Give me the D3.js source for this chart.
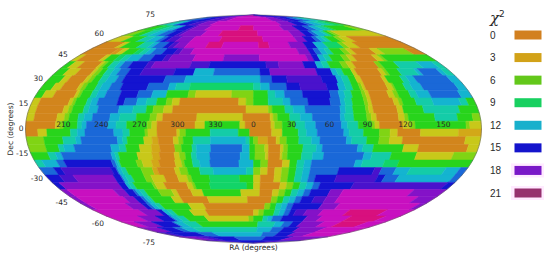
<!DOCTYPE html>
<html>
<head>
<meta charset="utf-8">
<script src="https://cdn.jsdelivr.net/npm/d3@7"></script>
<style>
  html, body { margin: 0; background: #fff; }
  svg { display: block; }
  text { font-family: "DejaVu Sans", sans-serif; fill: #2a2a2a; }
</style>
</head>
<body>
<svg id="chart" width="550" height="260"></svg>
<script>
// chi2, one row per 5 deg of Dec from +90 to -90.
// Each row is a list of runs "level:endColumn", columns are 6 deg of RA (60 across), level is chi2 / 1.5 in hex.
const chi2Rows = [
  'a:7 b:15 d:36 c:45 b:53 a:60',
  '9:5 a:10 b:15 c:19 d:38 c:43 b:47 a:51 9:55 8:58 7:60',
  '7:3 8:5 a:9 b:12 c:16 d:39 c:44 a:48 9:50 8:53 7:56 6:59 5:60',
  '5:3 6:5 7:7 8:9 a:12 b:13 c:17 d:26 e:30 d:38 c:42 a:45 9:47 8:49 7:51 6:52 5:58 4:60',
  '4:2 5:4 7:6 8:8 9:10 a:12 b:13 c:18 d:22 e:31 d:39 c:42 a:44 9:45 8:47 7:48 5:49 4:50 3:60',
  '3:3 5:6 7:8 8:10 9:11 a:12 b:14 c:17 d:23 e:32 d:39 c:41 a:43 9:44 8:45 7:46 5:48 4:49 3:51 0:60',
  '0:4 3:5 5:8 7:10 8:11 9:13 a:14 b:15 c:17 d:21 e:24 d:31 e:33 d:37 c:40 a:42 8:44 6:47 4:48 3:50 0:60',
  '0:5 1:6 3:7 5:9 6:10 7:11 8:12 9:14 a:16 b:17 c:19 d:38 c:40 a:41 9:42 8:43 7:44 5:46 4:47 3:48 0:51.5 3:53 4:58 0:60',
  '3:1 0:4.6 3:5.4 5:7 6:8 7:9 8:11 9:13 a:15 b:16 c:20 d:25 c:31 d:39 c:40 a:41 8:42 7:43 5:45 4:46 3:47 0:50.4 3:51.4 4:52 5:60',
  '5:1 3:2.5 0:5.4 3:5.9 4:6.4 5:7.2 7:8.3 8:9.1 9:10.4 a:13 b:14 c:20 b:23 a:32 b:34 c:38 a:40 8:41 7:42 5:44 4:45 3:46 0:49.6 4:50.4 5:52.8 7:56.5 8:59 7:60',
  '5:1.5 3:3.3 0:5.5 3:6 4:6.7 5:7.5 7:8.5 8:9.5 9:11 a:13 b:18 a:21 8:24 9:31 a:32.5 c:39.6 a:41.9 8:42.7 7:43.6 5:45 3:45.6 0:49.2 3:49.9 4:50.4 5:52.2 7:54.8 8:55.4 9:58.3 8:59 7:60',
  '5:2 3:3 0:5.4 3:6 4:6.6 5:7.6 7:8.6 8:10 9:11 a:17 9:20 8:31 9:32.7 a:34.9 b:40 a:42.2 8:43 7:44 5:45 3:45.8 0:48.9 3:49.5 5:51.7 7:52.6 8:53.7 9:58.7 8:60',
  '5:1.6 3:2.9 0:5.2 3:5.7 4:6.3 5:7.7 7:8.4 8:9.7 9:11.3 a:15 9:18 8:19 7:21 6:30 7:31 8:32.3 9:34.7 a:36.6 b:40.4 a:42 8:43 7:44 5:45 4:45.4 3:45.8 0:48.9 3:49.7 4:50 5:51.4 7:52.4 8:53.9 9:58.8 8:60',
  '5:1 3:2.5 0:5.4 3:5.8 4:6.2 5:7.6 7:8.4 8:9.6 9:11.6 a:14 9:16 8:18 5:21 4:22 3:27 4:30 5:32 7:33 8:34.3 9:36.8 a:40.6 9:41.8 8:42.6 7:43.6 5:45 4:45.5 3:46 0:48.6 3:49.4 4:50 5:51.6 7:52.6 8:54.4 9:58.5 8:60',
  '3:1 0:5 3:5.5 4:5.9 5:7.4 7:8 8:8.9 9:11.6 a:12.5 9:14.2 8:15.5 7:16.9 5:18.2 4:19 3:20 0:28 3:29 4:30 5:32 7:34 8:35 9:37.4 a:40.4 9:41.8 8:42.4 7:43.4 5:45 4:45.5 3:46 0:49 3:49.7 4:50.2 5:52 7:54.3 8:58 7:59 5:60',
  '3:1 0:4.6 3:5.3 4:5.8 5:7.3 7:8 8:9.2 9:12 8:13.9 7:15.7 5:16.6 4:18 3:19.2 0:29 3:32 4:32.5 5:34.2 7:35.3 8:36.9 9:41.6 8:42.3 7:43.3 5:45 4:45.4 3:46 0:49.2 3:50 5:52.7 7:57.5 5:60',
  '3:1 0:4 3:5 4:5.6 5:6.8 7:7.6 8:8.7 9:11 8:12.3 7:14.5 5:16.3 4:17.2 3:18 0:22.5 3:28.6 0:32.2 3:32.6 4:33.2 5:34.8 7:36.2 8:37.8 9:41.5 8:42.1 7:43.3 5:45 4:45.6 3:46.3 0:49.2 3:50 4:50.5 5:54 7:57 5:59 4:60',
  '0:3.9 3:4.5 4:5 5:6.8 7:7.4 8:8 9:10.8 8:11.9 7:13.3 5:16 4:16.6 3:17.3 0:22.3 3:23.6 5:28.2 3:28.9 0:32.3 3:32.8 4:33.8 5:35.5 7:36.8 8:38.2 9:41.6 8:42.4 7:43.8 5:45.6 4:46 3:46.6 0:49.7 3:50.6 4:51.3 5:58 4:58.5 3:60',
  '0:1.6 3:2.8 5:5.9 7:6.8 8:7.8 9:11.6 8:12.8 7:13.7 5:15.7 4:16.1 3:17.3 0:19.9 3:20.3 4:21.1 5:24.3 7:28 5:29.5 0:32.4 3:33.8 5:35.9 7:37 8:38.4 9:41.9 8:42.6 7:44.5 5:46.6 4:48 3:49 0:52 3:57 2:60',
  '4:2.3 5:4.8 7:6.5 8:7.2 9:12 8:12.7 7:13.3 5:15.5 3:16.6 2:17.4 0:19.4 3:20.1 4:20.7 5:22 7:24.3 8:29 7:29.5 5:30 4:30.6 2:31.9 0:33 3:33.5 4:34.4 5:36 7:37.7 8:38.8 9:42.3 8:43 7:45 5:46.6 4:48 3:49.7 0:58 3:60',
  '4:2.3 5:4 7:4.7 8:6.1 9:11 8:12.1 7:13 5:14.8 3:16.4 2:17.5 0:19.5 4:20.4 5:21.8 7:22.4 8:24.3 9:28.5 8:29.5 5:30.2 4:31.5 3:32 0:33.6 3:34 4:34.6 5:36.6 7:38.4 8:39.2 9:43.9 8:44.6 7:46 5:50 3:52 0:58.6 3:60',
  '5:2.3 7:3.3 8:4.1 9:10.8 8:11.3 7:11.8 5:14.3 3:16.3 2:17.3 0:19.3 3:20 4:20.8 5:21.6 7:22.3 8:24.1 9:28.2 8:29.5 5:30.2 4:31.6 3:32 0:33.6 3:33.9 4:34.6 5:36.5 7:38 8:39.5 9:44.9 8:46 7:48.6 5:52 3:57 4:60',
  '7:1 8:3 9:4 a:10.5 9:11 8:11.3 7:11.6 5:13.9 4:14.7 3:16 2:17 0:19.2 3:20.1 4:20.5 5:21.6 7:22.6 8:24 9:28 8:30 5:31 4:32 0:34 3:35 5:36 7:37 8:38 9:44 8:45 7:48 6:50 5:60',
  '9:2 a:3 b:10 a:10.7 9:10.9 8:11.4 7:12.1 5:14.2 4:15.8 2:16.5 0:18.9 3:19.6 4:20.7 5:22.4 7:24.3 8:29 7:30 4:31 3:32 0:33 3:34 4:35 5:36 7:37 8:38 9:42 a:47 b:48 9:50 8:52 7:57 8:59 9:60',
  'a:2 b:4 c:9.8 a:10.8 9:11 8:11.5 7:12.4 5:14.2 4:15.2 3:17.1 0:19 3:20.4 4:21 5:23.6 6:28 5:30 3:31 0:33 3:34 4:35 5:36 7:37 8:38 9:39 a:42 b:48 a:49 9:51 8:59 9:60',
  'a:1 c:9.8 a:10.8 8:11.3 7:12 5:14.8 4:15.2 3:16.6 0:20 3:20.8 4:21.2 5:23.4 6:29 5:30 3:31 0:34 3:35 4:36 5:37 7:38 8:39 9:40 a:45 b:59 a:60',
  'c:1 d:8.2 c:9.9 a:11.2 9:11.6 8:12.2 7:13 5:15.1 4:17.2 3:18 0:20.2 3:22 5:28 3:31 0:33 3:34 4:35 5:36 7:37 8:38 9:39 a:42 c:44 d:55 c:60',
  'c:1 d:8.7 c:10.4 a:11.5 9:12 8:12.6 7:13.1 5:16.5 3:18 0:22.4 3:29 0:33 4:34 5:35 7:36 8:37 9:38 a:40 b:42 c:44 d:57 c:60',
  'c:1 d:7.8 c:10.5 a:11.4 9:12 8:12.8 7:13.7 5:18.6 3:21.3 0:32 4:33 5:34 7:35 8:36 9:37 a:42 c:45 d:59 c:60',
  'd:8.6 c:11.9 a:12.9 8:13.8 7:14.8 5:18 3:21 0:30 3:31 4:32 5:34 7:35 8:36 9:37 a:38 b:40 c:43 d:48 e:55 d:60',
  'd:6.4 c:10 a:12.8 9:13.2 8:14.3 7:15.8 5:20 3:29 4:30 5:32 7:33 8:34 9:36 a:41 c:44 d:50 e:57 d:60',
  'd:3 c:6.9 a:11.5 9:12 8:13.9 7:17 5:31 7:35 8:37 9:39 a:41 c:46 d:50 e:56 d:60',
  'c:5 a:9 9:11 8:14 7:31 8:35 9:38 a:42 c:49 d:60',
  'b:3 a:12 9:17 8:33 9:38 a:43 c:49 d:60',
  'c:7 b:12 a:22 9:35 a:46 c:60',
  'b:12 a:46 b:60',
];

const chi2Levels = [0, 1.5, 3, 4.5, 6, 7.5, 9, 10.5, 12, 13.5, 15, 16.5, 18, 19.5, 21];
const levelColors = ['#d2851c', '#d4961a', '#d2a818', '#c8c81a', '#80d414', '#28d41c', '#12d468', '#14cca8',
  '#14b4d0', '#1a68d8', '#1414d0', '#4a12cc', '#8412c8', '#c810c0', '#d8107e'];

const raTicks = [210, 240, 270, 300, 330, 0, 30, 60, 90, 120, 150];
const decTicks = [75, 60, 45, 30, 15, 0, -15, -30, -45, -60, -75];
const legendValues = [0, 3, 6, 9, 12, 15, 18, 21];
const legendColors = ['#d2801f', '#d2a218', '#63c81a', '#18d060', '#18b0cc', '#1414cc', '#7a18c8', '#96306e'];

const nCols = 60;

// mollweide is not in plain d3, so give geoProjection the raw formula
function mollweideRaw(lambda, phi) {
  let theta = phi;
  const target = Math.PI * Math.sin(phi);
  if (Math.abs(phi) > Math.PI / 2 - 1e-6) {
    theta = Math.sign(phi) * Math.PI / 2;
  } else {
    for (let i = 0; i < 30; i++) {
      const f = 2 * theta + Math.sin(2 * theta) - target;
      theta -= f / (2 + 2 * Math.cos(2 * theta));
    }
  }
  return [(2 * Math.SQRT2 / Math.PI) * lambda * Math.cos(theta), Math.SQRT2 * Math.sin(theta)];
}

function parseRow(row, r) {
  let start = 0;
  return row.split(' ').map((run) => {
    const [level, end] = run.split(':');
    const cell = { r, start, end: +end, value: parseInt(level, 16) * 1.5 };
    start = +end;
    return cell;
  });
}

function drawMap(svg) {
  const projection = d3.geoProjection(mollweideRaw)
    .scale(228 / (2 * Math.SQRT2))
    .translate([253.5, 129])
    .precision(0.1);

  const colorScale = d3.scaleLinear().domain(chi2Levels).range(levelColors);
  const colToLon = d3.scaleLinear().domain([0, nCols]).range([-180, 180]);
  const rowToDec = d3.scaleLinear().domain([0, chi2Rows.length]).range([90, -90]);
  const line = d3.line();

  const cells = chi2Rows.flatMap(parseRow);

  svg.append('g')
    .selectAll('path')
    .data(cells)
    .join('path')
    .attr('d', (d) => {
      const lon0 = colToLon(d.start);
      const lon1 = colToLon(d.end);
      const lat0 = rowToDec(d.r);
      const lat1 = rowToDec(d.r + 1);
      return line([[lon0, lat0], [lon1, lat0], [lon1, lat1], [lon0, lat1]].map((p) => projection(p))) + 'Z';
    })
    .attr('fill', (d) => colorScale(d.value))
    .attr('stroke', (d) => colorScale(d.value))
    .attr('stroke-width', 0.5);

  const path = d3.geoPath(projection);
  svg.append('path')
    .datum({ type: 'Sphere' })
    .attr('d', path)
    .attr('fill', 'none')
    .attr('stroke', '#555')
    .attr('stroke-width', 0.5);

  svg.append('g')
    .selectAll('text')
    .data(raTicks)
    .join('text')
    .attr('x', (d) => projection([d > 180 ? d - 360 : d, 0])[0])
    .attr('y', 127)
    .attr('text-anchor', 'middle')
    .attr('font-size', 7.5)
    .text((d) => d);

  svg.append('g')
    .selectAll('text')
    .data(decTicks)
    .join('text')
    .attr('x', (d) => projection([-180, d])[0] - 2)
    .attr('y', (d) => projection([-180, d])[1] - d * 0.14 + 2)
    .attr('text-anchor', 'end')
    .attr('font-size', 7.5)
    .text((d) => d);

  svg.append('text')
    .attr('x', 253.5)
    .attr('y', 250)
    .attr('text-anchor', 'middle')
    .attr('font-size', 7.5)
    .text('RA (degrees)');

  svg.append('text')
    .attr('transform', 'translate(12.5, 129) rotate(-90)')
    .attr('text-anchor', 'middle')
    .attr('font-size', 7.5)
    .text('Dec (degrees)');
}

function drawLegend(svg) {
  const yScale = d3.scalePoint().domain(legendValues).range([35, 193]);

  const title = svg.append('text')
    .attr('x', 490)
    .attr('y', 23)
    .style('font-family', '"DejaVu Serif", serif')
    .style('font-style', 'italic')
    .attr('font-size', 15)
    .text('χ');
  title.append('tspan')
    .attr('dy', -6)
    .style('font-style', 'normal')
    .style('font-family', '"DejaVu Sans", sans-serif')
    .attr('font-size', 9)
    .text('2');

  const rows = svg.append('g')
    .selectAll('g')
    .data(legendValues)
    .join('g')
    .attr('transform', (d) => `translate(0, ${yScale(d)})`);

  rows.filter((d) => d >= 18)
    .append('rect')
    .attr('x', 511)
    .attr('y', -7)
    .attr('width', 33)
    .attr('height', 14)
    .attr('fill', '#ffeaff');

  rows.append('rect')
    .attr('x', 514.5)
    .attr('y', -4.5)
    .attr('width', 27)
    .attr('height', 9)
    .attr('fill', (d, i) => legendColors[i]);

  rows.append('text')
    .attr('x', 490)
    .attr('y', 3.5)
    .style('font-family', '"Liberation Sans", sans-serif')
    .attr('font-size', 10)
    .text((d) => d);
}

const svg = d3.select('#chart');
drawMap(svg);
drawLegend(svg);
</script>
</body>
</html>
